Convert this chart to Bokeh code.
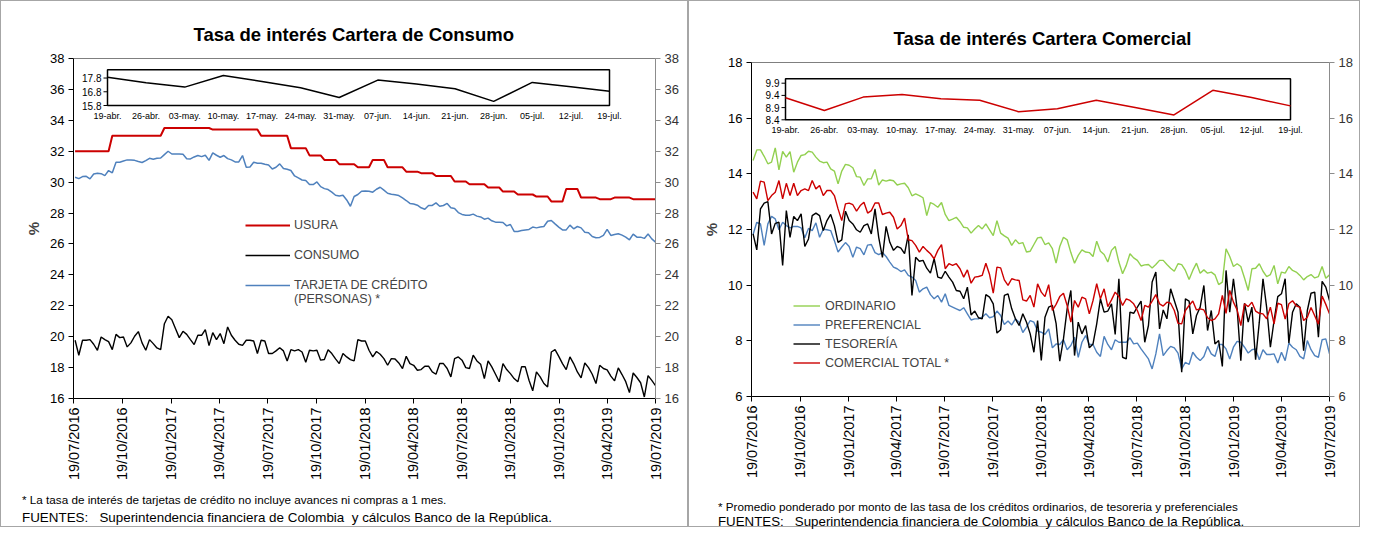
import math
import pandas as pd
from bokeh.plotting import figure
from bokeh.layouts import row, column
from bokeh.models import (Range1d, LinearAxis, FixedTicker, DatetimeTickFormatter, Legend,
                          LegendItem, Span, Div)
from bokeh.core.properties import value
from bokeh.embed import file_html
from bokeh.resources import INLINE

# ---------------- data ----------------
week_start = "2016-07-22"   # weekly observations (Fridays) up to 19-jul-2019
quarter_ticks = ["2016-07-19", "2016-10-19", "2017-01-19", "2017-04-19", "2017-07-19",
                 "2017-10-19", "2018-01-19", "2018-04-19", "2018-07-19", "2018-10-19",
                 "2019-01-19", "2019-04-19", "2019-07-19"]
inset_labels = ["19-abr.", "26-abr.", "03-may.", "10-may.", "17-may.", "24-may.", "31-may.",
                "07-jun.", "14-jun.", "21-jun.", "28-jun.", "05-jul.", "12-jul.", "19-jul."]
consumo_yticks = [16, 18, 20, 22, 24, 26, 28, 30, 32, 34, 36, 38]
comercial_yticks = [6, 8, 10, 12, 14, 16, 18]
consumo_inset_ticks = [15.8, 16.8, 17.8]
consumo_inset_max = 18.4
comercial_inset_ticks = [8.4, 8.9, 9.4, 9.9]
comercial_inset_max = 10.08

usura = [32.0, 32.0, 32.0, 32.0, 32.0, 32.0, 32.0, 32.0, 32.0, 32.0,
         33.0, 33.0, 33.0, 33.0, 33.0, 33.0, 33.0, 33.0, 33.0, 33.0,
         33.0, 33.0, 33.0, 33.0, 33.5, 33.5, 33.5, 33.5, 33.5, 33.5,
         33.5, 33.5, 33.5, 33.5, 33.5, 33.5, 33.5, 33.4, 33.4, 33.4,
         33.4, 33.4, 33.4, 33.4, 33.4, 33.4, 33.4, 33.4, 33.4, 33.4,
         33.0, 33.0, 33.0, 33.0, 33.0, 33.0, 33.0, 33.0, 32.2, 32.2,
         32.2, 32.2, 32.2, 31.73, 31.73, 31.73, 31.73, 31.44, 31.44, 31.44,
         31.44, 31.16, 31.16, 31.16, 31.16, 31.16, 30.96, 30.96, 30.96, 30.96,
         31.44, 31.44, 31.44, 31.44, 30.96, 30.96, 30.96, 30.96, 30.96, 30.68,
         30.68, 30.68, 30.68, 30.58, 30.58, 30.58, 30.58, 30.4, 30.4, 30.4,
         30.4, 30.4, 30.04, 30.04, 30.04, 30.04, 29.86, 29.86, 29.86, 29.86,
         29.86, 29.65, 29.65, 29.65, 29.65, 29.39, 29.39, 29.39, 29.39, 29.2,
         29.2, 29.2, 29.2, 29.2, 29.07, 29.07, 29.07, 29.07, 28.75, 28.75,
         28.75, 28.75, 29.56, 29.56, 29.56, 29.56, 29.0, 29.0, 29.0, 29.0,
         29.0, 28.9, 28.9, 28.9, 28.9, 29.0, 29.0, 29.0, 29.0, 29.0,
         28.9, 28.9, 28.9, 28.9, 28.9, 28.9, 28.9]

consumo = [19.77, 18.80, 19.77, 19.77, 19.81, 19.51, 19.12, 19.98, 19.81, 19.68,
           19.16, 20.15, 19.94, 19.98, 19.34, 19.60, 20.03, 20.33, 19.60, 19.12,
           19.81, 19.55, 19.27, 19.16, 20.84, 21.32, 21.10, 20.52, 19.94, 20.35,
           20.15, 19.81, 19.49, 20.09, 20.09, 20.46, 19.42, 20.26, 19.81, 20.20,
           19.55, 20.63, 20.09, 19.77, 19.51, 19.44, 19.77, 19.77, 19.72, 18.91,
           19.77, 19.72, 18.91, 18.91, 19.08, 19.29, 19.08, 18.43, 19.16, 19.08,
           19.16, 19.01, 18.35, 19.12, 19.08, 19.12, 18.48, 18.52, 19.16, 18.91,
           18.56, 18.26, 18.91, 18.69, 18.52, 18.43, 19.81, 19.72, 19.72, 19.12,
           18.69, 19.04, 18.86, 18.58, 18.15, 18.58, 18.56, 18.30, 17.94, 18.73,
           18.26, 18.15, 17.83, 17.87, 18.09, 18.09, 17.72, 17.57, 18.26, 18.26,
           17.94, 17.40, 18.58, 18.69, 18.48, 18.00, 17.94, 18.80, 18.43, 18.22,
           17.29, 18.43, 18.05, 17.57, 17.08, 18.26, 17.87, 17.61, 17.29, 17.08,
           18.05, 18.05, 17.18, 16.50, 17.72, 17.40, 16.97, 16.75, 19.01, 19.16,
           18.73, 18.26, 17.87, 18.69, 18.26, 17.72, 17.33, 18.30, 18.00, 17.57,
           16.97, 18.15, 17.94, 17.85, 17.45, 17.14, 17.98, 17.55, 17.09, 16.38,
           17.65, 17.36, 17.02, 16.10, 17.48, 17.17, 16.83]

tarjeta = [30.32, 30.23, 30.36, 30.38, 30.21, 30.53, 30.57, 30.55, 30.42, 30.75,
           30.60, 31.29, 31.29, 31.37, 31.44, 31.44, 31.41, 31.33, 31.27, 31.39,
           31.54, 31.48, 31.54, 31.56, 31.78, 32.00, 31.82, 31.82, 31.82, 31.80,
           31.52, 31.50, 31.63, 31.72, 31.65, 31.74, 31.41, 31.89, 31.74, 31.61,
           31.72, 31.52, 31.44, 31.31, 31.31, 31.72, 30.96, 30.98, 31.29, 31.22,
           31.22, 31.16, 31.11, 30.85, 30.96, 31.18, 30.88, 30.83, 30.75, 30.40,
           30.27, 30.14, 30.10, 29.84, 29.84, 30.01, 29.71, 29.58, 29.52, 29.35,
           29.15, 29.11, 29.15, 28.85, 28.44, 29.07, 29.20, 29.41, 29.43, 29.41,
           29.35, 29.54, 29.67, 29.48, 29.28, 29.22, 29.18, 29.13, 28.98, 28.81,
           28.62, 28.59, 28.51, 28.34, 28.25, 28.49, 28.49, 28.66, 28.44, 28.49,
           28.62, 28.34, 28.29, 28.03, 27.91, 27.86, 27.86, 27.93, 27.80, 27.75,
           27.60, 27.67, 27.50, 27.41, 27.41, 27.39, 27.17, 27.26, 26.81, 26.81,
           26.87, 26.91, 26.94, 27.09, 27.04, 27.09, 27.13, 27.47, 27.52, 27.30,
           27.09, 26.91, 26.91, 27.22, 26.98, 27.13, 27.04, 26.76, 26.72, 26.48,
           26.40, 26.42, 26.55, 26.94, 26.55, 26.61, 26.66, 26.57, 26.44, 26.27,
           26.64, 26.44, 26.44, 26.36, 26.64, 26.33, 26.12]

ordinario = [14.48, 14.86, 14.86, 14.63, 14.36, 14.42, 14.93, 14.14, 14.81, 14.60,
             14.80, 14.06, 14.42, 14.66, 14.69, 14.81, 14.78, 14.60, 14.46, 14.40,
             14.42, 14.18, 14.10, 13.64, 14.10, 14.34, 14.31, 14.22, 13.90, 13.88,
             13.58, 13.82, 13.82, 14.16, 13.60, 13.78, 13.74, 13.78, 13.75, 13.60,
             13.64, 13.66, 13.50, 13.21, 13.28, 13.22, 13.14, 12.50, 12.97, 12.90,
             12.80, 12.97, 12.54, 12.32, 12.37, 12.44, 12.28, 12.08, 12.06, 11.87,
             12.02, 12.14, 12.02, 12.20, 11.99, 11.78, 12.32, 11.87, 11.77, 11.69,
             11.43, 11.63, 11.49, 11.53, 11.19, 11.22, 11.46, 11.70, 11.72, 11.46,
             11.52, 11.31, 10.79, 11.39, 11.72, 11.63, 11.17, 10.79, 11.07, 11.27,
             11.19, 11.17, 11.03, 11.58, 11.22, 11.10, 10.83, 11.25, 11.39, 10.83,
             10.41, 10.71, 11.13, 10.98, 10.89, 10.69, 10.73, 10.74, 10.62, 10.74,
             10.89, 10.89, 10.74, 10.61, 10.50, 10.77, 10.74, 10.53, 10.20, 10.53,
             10.79, 10.43, 10.55, 10.43, 10.47, 10.37, 10.02, 10.11, 11.31, 11.03,
             10.67, 10.77, 10.67, 10.26, 9.81, 10.59, 10.61, 10.77, 10.50, 10.31,
             10.38, 10.71, 10.05, 10.47, 10.43, 10.67, 10.53, 10.47, 10.35, 10.19,
             10.31, 10.38, 10.26, 10.31, 10.67, 10.25, 10.37]

preferencial = [11.82, 12.26, 12.20, 11.43, 12.20, 12.47, 12.38, 11.99, 12.26, 12.14,
                12.06, 12.11, 12.11, 12.06, 11.70, 12.04, 11.96, 12.24, 11.72, 12.01,
                11.99, 11.96, 11.60, 11.19, 11.37, 11.53, 11.39, 11.00, 11.37, 11.31,
                11.09, 11.44, 11.46, 11.17, 11.10, 11.17, 11.03, 10.83, 10.65, 10.59,
                10.49, 10.55, 10.35, 10.29, 10.17, 9.75, 9.87, 9.93, 9.66, 9.51,
                9.63, 9.39, 9.69, 9.27, 9.21, 9.15, 9.09, 9.19, 8.97, 8.75,
                8.79, 8.79, 8.85, 8.97, 8.83, 8.87, 9.07, 8.91, 8.59, 8.71,
                8.57, 8.79, 8.67, 8.30, 8.49, 8.73, 8.67, 8.35, 8.31, 8.23,
                8.43, 7.75, 7.89, 7.87, 8.04, 7.68, 7.83, 8.13, 7.41, 7.95,
                8.19, 7.87, 7.87, 7.59, 7.44, 8.16, 7.87, 7.68, 8.04, 7.95,
                7.95, 7.95, 8.11, 7.89, 7.92, 7.71, 7.53, 7.35, 6.99, 7.53,
                8.25, 7.47, 7.65, 7.80, 7.75, 7.56, 6.99, 7.23, 7.15, 7.59,
                7.41, 7.29, 7.44, 7.80, 7.53, 7.44, 7.87, 7.87, 7.71, 7.35,
                7.77, 7.98, 7.95, 7.77, 7.56, 7.68, 7.71, 7.32, 7.68, 7.51,
                7.51, 7.53, 7.20, 7.59, 7.29, 7.92, 7.77, 7.68, 7.44, 7.35,
                8.01, 7.68, 7.47, 7.41, 8.04, 8.07, 7.53]

tesoreria = [11.84, 11.27, 12.74, 12.95, 13.00, 11.84, 12.22, 12.26, 10.71, 12.68,
             11.72, 12.47, 12.32, 12.56, 11.39, 11.66, 12.50, 12.59, 12.50, 11.96,
             12.32, 12.54, 12.14, 11.54, 11.63, 12.66, 12.32, 12.20, 11.99, 11.90,
             12.14, 12.20, 11.84, 12.74, 11.72, 11.00, 12.11, 11.54, 11.25, 11.39,
             11.33, 11.13, 11.81, 9.63, 11.00, 10.86, 10.89, 10.61, 10.43, 10.95,
             10.29, 10.25, 10.50, 10.29, 10.11, 9.81, 9.78, 9.51, 9.93, 8.93,
             9.07, 8.83, 8.79, 9.66, 9.57, 9.33, 8.28, 8.40, 9.63, 9.69,
             9.15, 8.79, 8.55, 8.97, 8.67, 8.25, 7.59, 8.73, 7.30, 8.85,
             9.21, 9.27, 8.63, 7.27, 8.07, 9.15, 9.81, 7.47, 8.67, 8.25,
             8.55, 7.75, 7.89, 8.61, 9.51, 9.03, 9.07, 9.33, 8.23, 10.23,
             7.41, 7.35, 9.03, 8.99, 9.21, 9.43, 7.95, 8.55, 10.11, 10.47,
             8.43, 9.11, 8.79, 9.87, 9.45, 9.03, 6.87, 9.51, 9.43, 8.25,
             8.91, 9.21, 9.99, 8.37, 9.09, 7.89, 8.01, 7.08, 10.53, 9.03,
             10.23, 9.15, 7.29, 9.35, 8.67, 9.21, 7.32, 8.67, 10.23, 9.19,
             7.77, 8.73, 9.59, 9.69, 10.23, 7.92, 9.03, 9.33, 9.21, 7.65,
             9.09, 9.71, 9.75, 8.13, 10.14, 9.93, 9.45]

comercial_total = [13.34, 13.10, 13.74, 13.70, 13.04, 13.22, 13.34, 13.76, 13.10, 13.66,
                   13.22, 13.66, 13.22, 13.40, 13.46, 13.40, 13.76, 13.46, 13.58, 13.22,
                   13.40, 13.40, 13.22, 12.74, 12.32, 12.92, 12.95, 12.89, 12.66, 12.86,
                   12.98, 12.59, 12.68, 12.95, 12.95, 12.54, 12.59, 12.62, 12.44, 12.02,
                   12.14, 12.41, 11.63, 11.60, 11.43, 11.19, 11.39, 11.25, 11.13, 10.95,
                   11.25, 11.46, 10.59, 10.77, 10.71, 10.77, 10.59, 10.29, 10.55, 10.07,
                   10.29, 10.31, 10.35, 10.79, 10.38, 9.71, 10.65, 10.62, 10.19, 9.99,
                   10.23, 10.19, 10.17, 9.47, 9.43, 9.63, 9.21, 10.05, 9.75, 9.59,
                   10.02, 9.09, 9.31, 9.59, 9.71, 9.27, 8.67, 9.45, 9.21, 9.57,
                   9.51, 8.97, 9.45, 10.05, 9.51, 9.87, 9.23, 9.47, 9.75, 9.59,
                   9.27, 9.51, 9.45, 9.33, 9.09, 8.73, 9.27, 9.21, 9.43, 9.66,
                   9.33, 9.25, 9.39, 9.35, 9.09, 8.63, 8.61, 9.09, 9.27, 9.43,
                   9.11, 9.15, 9.11, 8.83, 8.73, 8.79, 8.97, 9.63, 8.99, 9.81,
                   9.39, 9.11, 8.55, 9.33, 9.23, 9.39, 9.07, 8.99, 8.97, 8.79,
                   9.21, 8.61, 9.35, 9.30, 8.78, 9.33, 9.44, 9.26, 9.20, 8.73,
                   8.85, 9.20, 8.90, 8.60, 9.61, 9.31, 8.97]

dates = list(pd.date_range(week_start, periods=len(usura), freq="7D"))

# ---------------- styling ----------------
FONT = "Liberation Sans"
NARROW = "Liberation Sans Narrow, Liberation Sans"
RED = "#CC0000"
BLUE = "#4F81BD"
GREEN = "#92D050"
FIG_H = 484      # chart part; footnote Div below it
NOTE_H = 41      # 484 + 41 + 2px border = 527


def ms(d):
    return pd.Timestamp(d).timestamp() * 1000.0


def make_panel(width, frame, yticks, title, title_offset, title_standoff):
    p = figure(width=width, height=FIG_H, x_axis_type="datetime",
               x_range=Range1d(ms(quarter_ticks[0]), ms(quarter_ticks[-1])),
               y_range=Range1d(yticks[0], yticks[-1]),
               output_backend="svg", toolbar_location=None,
               min_border_left=frame["left"], min_border_right=width - frame["right"],
               min_border_top=frame["top"], min_border_bottom=FIG_H - frame["bottom"])
    p.xgrid.visible = False
    p.ygrid.visible = False
    p.outline_line_color = None
    p.background_fill_color = "white"
    p.border_fill_color = "white"

    p.title.text = title
    p.title.align = "left"
    p.title.offset = title_offset
    p.title.text_font = FONT
    p.title.text_font_size = "18.5px"
    p.title.text_font_style = "bold"
    p.title.text_color = "black"
    p.title.standoff = title_standoff

    yax = p.yaxis[0]
    yax.ticker = FixedTicker(ticks=yticks)
    yax.axis_line_color = "black"
    yax.major_tick_line_color = "black"
    yax.major_tick_out = 5
    yax.major_tick_in = 0
    yax.minor_tick_out = 0
    yax.major_label_text_font = FONT
    yax.major_label_text_font_size = "13px"
    yax.major_label_text_color = "black"
    yax.major_label_standoff = 4
    yax.axis_label = "%"
    yax.axis_label_text_font = FONT
    yax.axis_label_text_font_style = "bold"
    yax.axis_label_text_font_size = "15px"
    yax.axis_label_standoff = 5

    xax = p.xaxis[0]
    xax.ticker = FixedTicker(ticks=[ms(t) for t in quarter_ticks])
    fmt = "%d/%m/%Y"
    xax.formatter = DatetimeTickFormatter(days=fmt, months=fmt, years=fmt, hours=fmt,
                                          hourmin=fmt, minutes=fmt, minsec=fmt, seconds=fmt,
                                          milliseconds=fmt, microseconds=fmt)
    xax.major_label_orientation = math.pi / 2
    xax.axis_line_color = "black"
    xax.major_tick_line_color = "black"
    xax.major_tick_out = 5
    xax.major_tick_in = 0
    xax.minor_tick_out = 0
    xax.major_label_text_font = FONT
    xax.major_label_text_font_size = "14.5px"
    xax.major_label_text_color = "black"
    xax.major_label_standoff = 4

    rax = LinearAxis(ticker=FixedTicker(ticks=yticks), axis_line_color="#8c8c8c",
                     major_tick_line_color="#8c8c8c", major_tick_out=5, major_tick_in=0,
                     minor_tick_out=0, major_label_text_font=FONT,
                     major_label_text_font_size="13px", major_label_text_color="#333333",
                     major_label_standoff=4)
    p.add_layout(rax, "right")
    p.add_layout(Span(location=yticks[-1], dimension="width", line_color="black", line_width=1))
    return p


def notes_div(width, lines, pad_left, top1, gap2):
    (t1, s1), (t2, s2) = lines
    fam = "'Liberation Sans Narrow', 'Liberation Sans', Arial, sans-serif"
    html = (f"<div style=\"font-family:{fam};color:black;padding-left:{pad_left}px;"
            f"white-space:nowrap;\">"
            f"<div style=\"font-size:{s1};line-height:14px;margin-top:{top1}px;\">{t1}</div>"
            f"<div style=\"font-size:{s2};line-height:16px;margin-top:{gap2}px;\">{t2}</div>"
            f"</div>")
    return Div(text=html, width=width, height=NOTE_H, margin=0)


def add_inset(p, frame, box, series, ticks, ymax, color):
    d = dates[-len(inset_labels):]
    vals = series[-len(inset_labels):]
    x0, x1 = ms(d[0]), ms(d[-1])
    sx = (x1 - x0) / (box["right"] - box["left"])
    xr = Range1d(x0 + (frame["left"] - box["left"]) * sx, x0 + (frame["right"] - box["left"]) * sx)
    ymin = ticks[0]
    sy = (ymax - ymin) / (box["bottom"] - box["top"])
    yr = Range1d(ymin - (frame["bottom"] - box["bottom"]) * sy,
                 ymin + (box["bottom"] - frame["top"]) * sy)
    p.extra_x_ranges = {"ix": xr}
    p.extra_y_ranges = {"iy": yr}
    kw = dict(x_range_name="ix", y_range_name="iy")
    p.quad(left=[d[0]], right=[d[-1]], bottom=[ymin], top=[ymax], fill_color="white",
           line_color="black", line_width=1.5, **kw)
    p.line(d, vals, line_color=color, line_width=1.5, **kw)
    p.ray(x=[d[0]] * len(ticks), y=ticks, length=4, length_units="screen", angle=math.pi,
          line_color="black", line_width=1, **kw)
    p.text(x=[d[0]] * len(ticks), y=ticks, text=[f"{t:.1f}" for t in ticks], x_offset=-6,
           text_align="right", text_baseline="middle", text_font=value(NARROW),
           text_font_size="10px", text_color="black", **kw)
    p.text(x=d, y=[ymin] * len(d), text=inset_labels, y_offset=5, text_align="center",
           text_baseline="top", text_font=value(NARROW), text_font_size="9px",
           text_color="black", **kw)


def legend(items, loc, spacing, gw, gh, standoff):
    return Legend(items=items, location=loc, orientation="vertical", border_line_color=None,
                  background_fill_alpha=0, padding=0, margin=0, spacing=spacing,
                  glyph_width=gw, glyph_height=gh, label_height=gh, label_standoff=standoff,
                  label_text_font=FONT, label_text_font_size="12.5px")


BORDER = {"border": "1px solid #a6a6a6"}
FUENTES = "FUENTES:&nbsp;&nbsp; Superintendencia financiera de Colombia &nbsp;y cálculos Banco de la República."

# ---------------- left panel: consumo ----------------
frame_l = dict(left=72, right=654, top=57, bottom=397)
p1 = make_panel(686, frame_l, consumo_yticks, "Tasa de interés Cartera de Consumo", 120, 28)
r_us = p1.line(dates, usura, line_color=RED, line_width=2)
r_co = p1.line(dates, consumo, line_color="black", line_width=1.4)
r_ta = p1.line(dates, tarjeta, line_color=BLUE, line_width=1.5)
r_blank = p1.line([], [], line_alpha=0)
add_inset(p1, frame_l, dict(left=106, right=608, top=68.3, bottom=104), consumo,
          consumo_inset_ticks, consumo_inset_max, "black")
p1.add_layout(legend([LegendItem(label="USURA", renderers=[r_us]),
                      LegendItem(label="CONSUMO", renderers=[r_co]),
                      LegendItem(label="TARJETA DE CRÉDITO", renderers=[r_ta])],
                     (172, 103), 10, 45, 20, 4), "center")
p1.add_layout(legend([LegendItem(label="(PERSONAS) *", renderers=[r_blank])],
                     (172, 89), 0, 45, 20, 4), "center")
n1 = notes_div(686, [("* La tasa de interés de tarjetas de crédito no incluye avances ni compras a 1 mes.", "11.7px"),
                     (FUENTES, "13.4px")], 21, 8, 3)

# ---------------- right panel: comercial ----------------
frame_r = dict(left=62, right=640, top=61, bottom=395)
p2 = make_panel(670, frame_r, comercial_yticks, "Tasa de interés Cartera Comercial", 142, 27)
r_or = p2.line(dates, ordinario, line_color=GREEN, line_width=1.4)
r_pr = p2.line(dates, preferencial, line_color=BLUE, line_width=1.4)
r_te = p2.line(dates, tesoreria, line_color="black", line_width=1.4)
r_ct = p2.line(dates, comercial_total, line_color=RED, line_width=1.4)
add_inset(p2, frame_r, dict(left=96, right=601, top=77.3, bottom=118.3), comercial_total,
          comercial_inset_ticks, comercial_inset_max, RED)
p2.add_layout(legend([LegendItem(label="ORDINARIO", renderers=[r_or]),
                      LegendItem(label="PREFERENCIAL", renderers=[r_pr]),
                      LegendItem(label="TESORERÍA", renderers=[r_te]),
                      LegendItem(label="COMERCIAL TOTAL *", renderers=[r_ct])],
                     (42, 24), 0, 27, 19, 5), "center")
n2 = notes_div(670, [("* Promedio ponderado por monto de las tasa de los créditos ordinarios, de tesoreria y preferenciales", "11.7px"),
                     (FUENTES, "13.3px")], 29, 15, 0)

layout = row(column(p1, n1, styles=BORDER), column(p2, n2, styles=BORDER))
open("out.html", "w").write(file_html(layout, INLINE))
